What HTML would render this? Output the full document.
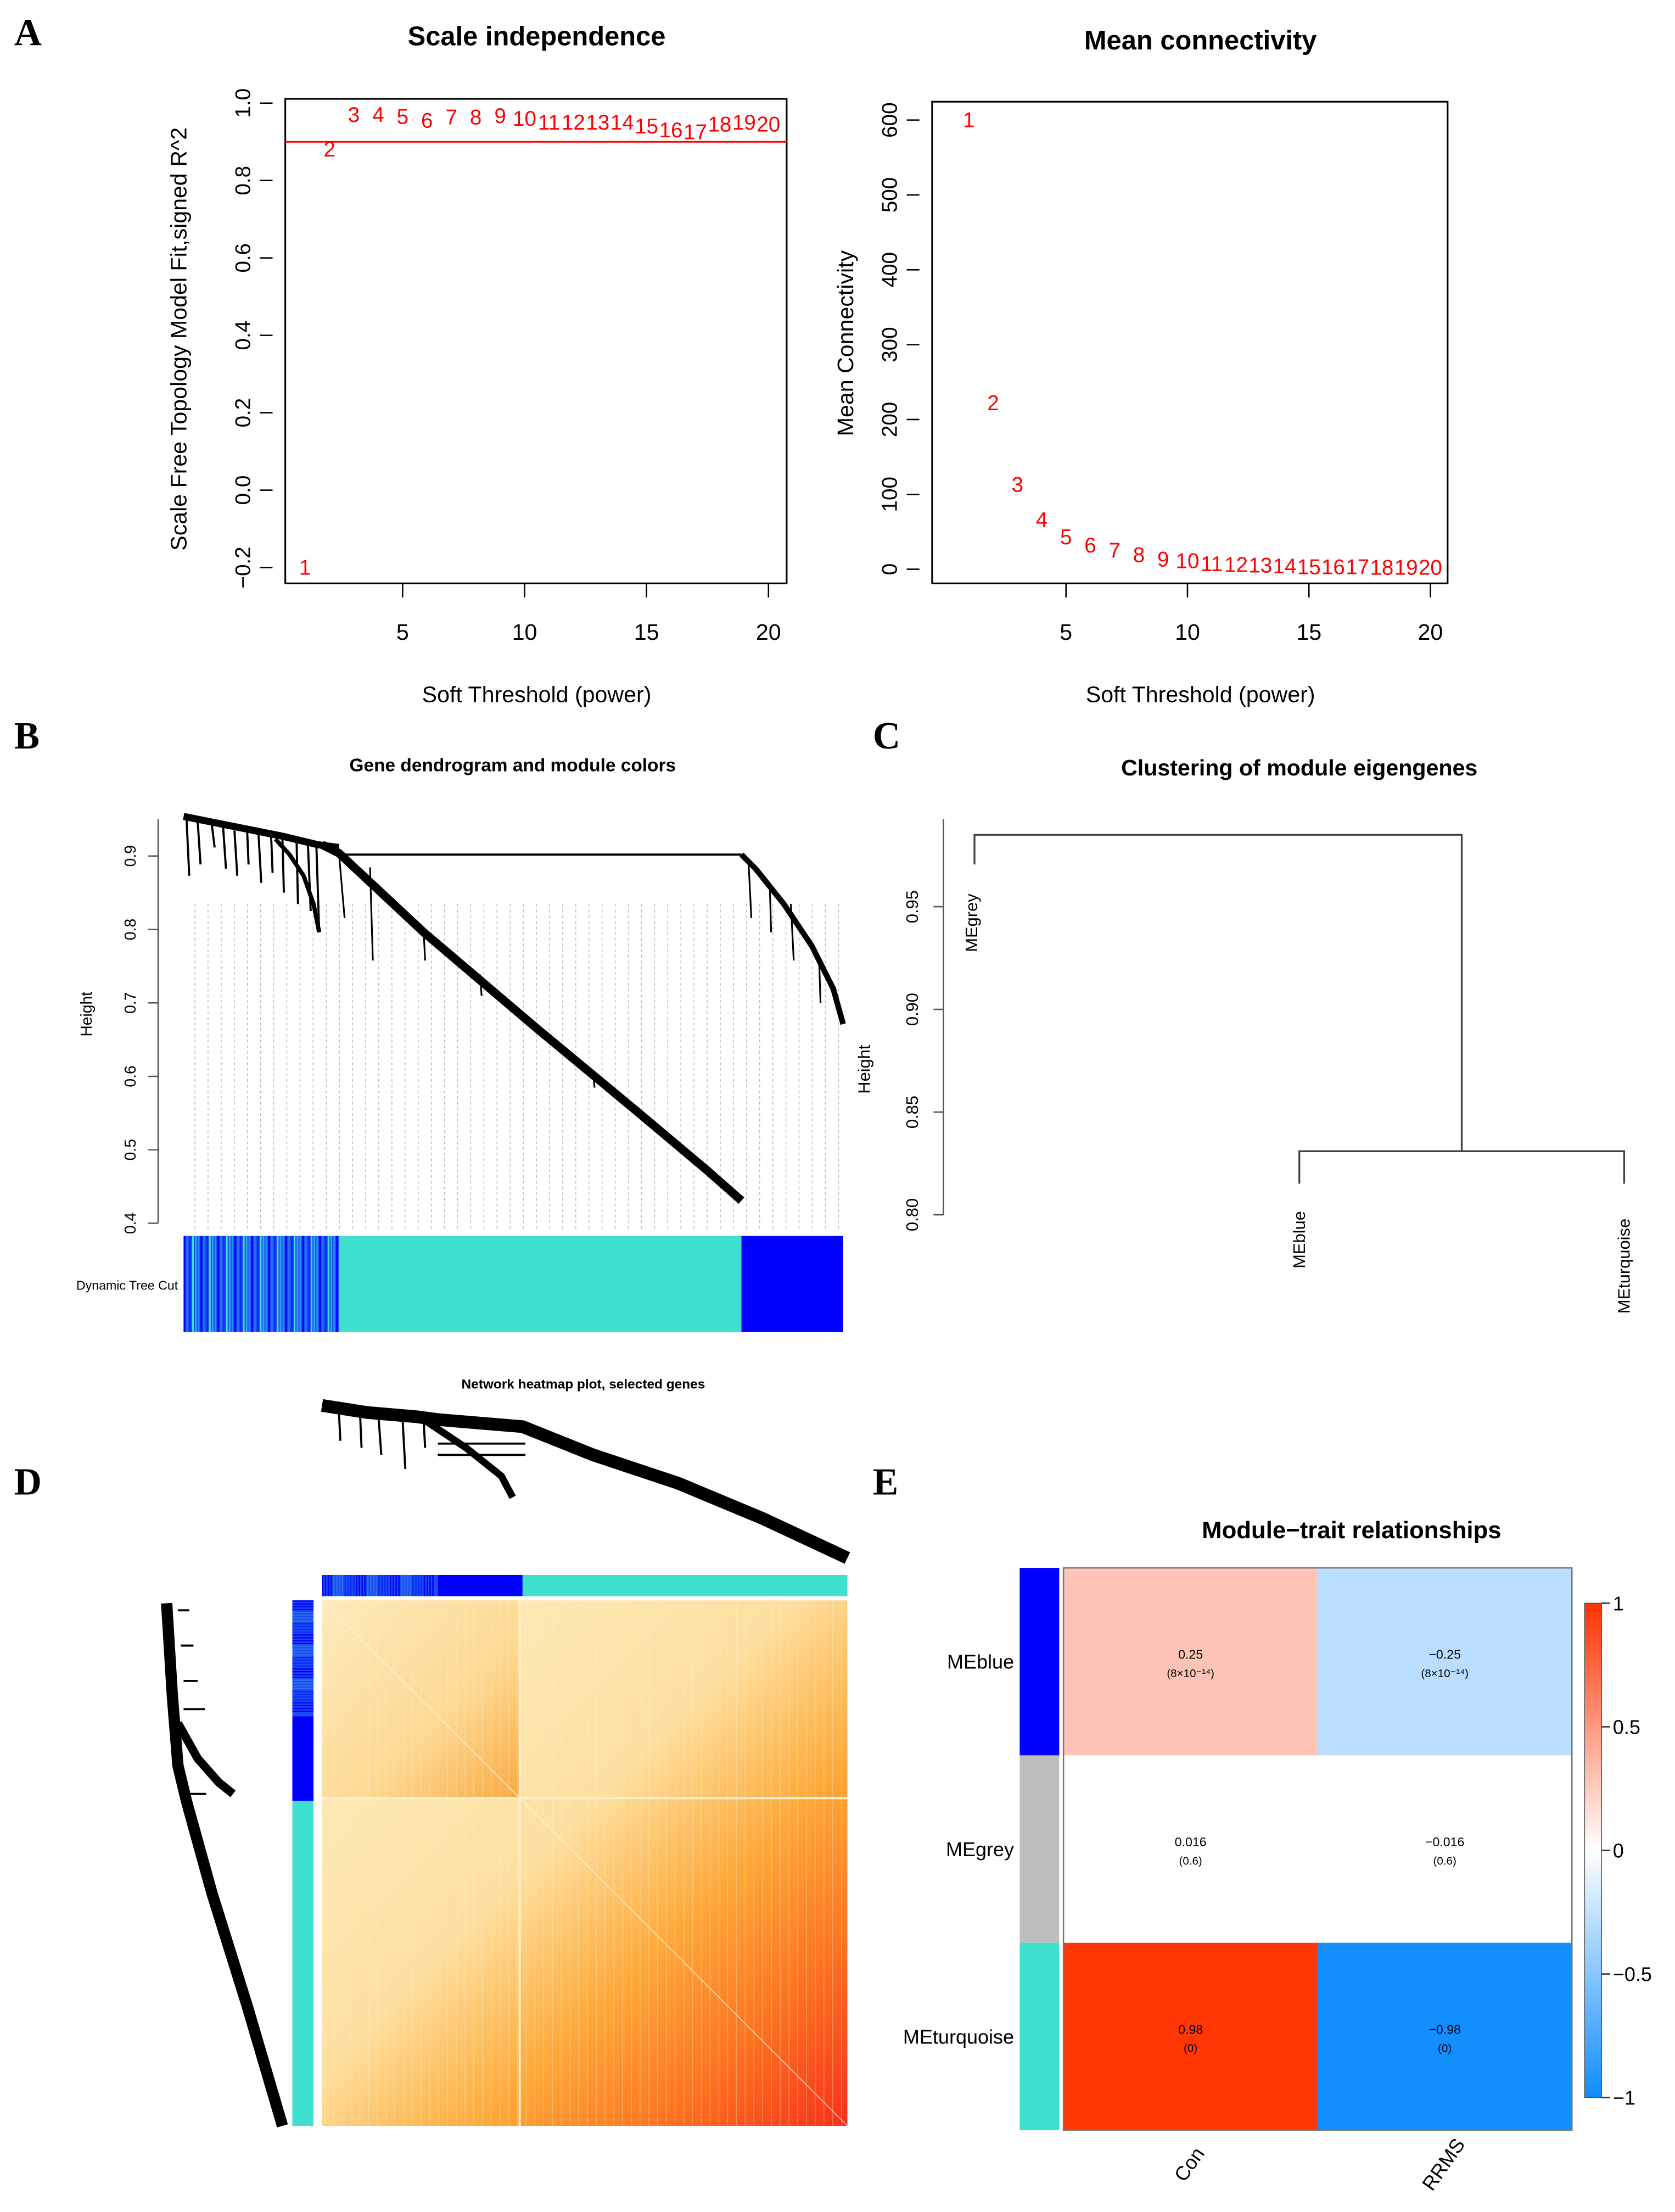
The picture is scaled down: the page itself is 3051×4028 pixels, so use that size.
<!DOCTYPE html>
<html><head><meta charset="utf-8"><style>
html,body{margin:0;padding:0;background:#fff}
svg{display:block}
text{font-family:"Liberation Sans",sans-serif}
.lt{font-family:"Liberation Serif",serif;font-weight:bold;font-size:27px}
</style></head><body>
<svg id="fig" xmlns="http://www.w3.org/2000/svg" width="3051" height="4028" viewBox="0 0 1186 1566" preserveAspectRatio="none">
<defs>
<linearGradient id="hm" x1="0" y1="0" x2="1" y2="1">
<stop offset="0" stop-color="#fdeec0"/><stop offset="0.45" stop-color="#fde0a0"/><stop offset="0.65" stop-color="#fdaa3a"/><stop offset="0.82" stop-color="#fd7420"/><stop offset="1" stop-color="#f8301a"/></linearGradient>
<linearGradient id="hmb" x1="0" y1="0" x2="1" y2="1">
<stop offset="0" stop-color="#fde9b8"/><stop offset="0.6" stop-color="#fdd78f"/><stop offset="1" stop-color="#f8a030"/></linearGradient>
<linearGradient id="leg" x1="0" y1="0" x2="0" y2="1">
<stop offset="0" stop-color="#ff3300"/><stop offset="0.5" stop-color="#ffffff"/><stop offset="1" stop-color="#0e8cff"/></linearGradient>
</defs>

<text class="lt" x="10" y="32">A</text>
<text class="lt" x="10" y="530">B</text>
<text class="lt" x="618" y="530">C</text>
<text class="lt" x="10" y="1058">D</text>
<text class="lt" x="618" y="1058">E</text>

<g id="pA1">
<text x="380" y="32" font-size="19" font-weight="bold" text-anchor="middle">Scale independence</text>
<rect x="202" y="70" width="355" height="343" fill="none" stroke="#000" stroke-width="1.2"/>
<text transform="translate(132,240) rotate(-90)" font-size="16" text-anchor="middle">Scale Free Topology Model Fit,signed R^2</text>
<text x="380" y="497" font-size="16" text-anchor="middle">Soft Threshold (power)</text>
</g>
<g id="pA2">
<text x="850" y="35" font-size="19" font-weight="bold" text-anchor="middle">Mean connectivity</text>
<rect x="660" y="72" width="365" height="341" fill="none" stroke="#000" stroke-width="1.2"/>
<text transform="translate(604,243) rotate(-90)" font-size="16" text-anchor="middle">Mean Connectivity</text>
<text x="850" y="497" font-size="16" text-anchor="middle">Soft Threshold (power)</text>
</g>

<g>
<text x="363" y="546" font-size="13" font-weight="bold" text-anchor="middle">Gene dendrogram and module colors</text>
<line x1="112" y1="580" x2="112" y2="866" stroke="#555"/>
<text transform="translate(65,718) rotate(-90)" font-size="11" text-anchor="middle">Height</text>
<g id="bTicks"></g>
<g id="bDash" stroke="#bbb" stroke-width="0.6" stroke-dasharray="2,2"></g>
<g fill="none" stroke="#000">
<path d="M130 578 L165 585 L200 592 L225 598 L240 600" stroke-width="5"/>
<path d="M132 578 L134 620 M140 582 L142 612 M150 584 L152 600 M158 586 L160 615 M166 588 L168 620 M175 588 L176 612 M183 590 L185 625 M192 592 L193 618 M200 594 L201 632 M210 596 L211 640 M218 597 L220 645 M224 598 L226 660" stroke-width="1.5"/>
<path d="M195 594 L205 605 L215 620 L222 640 L226 660" stroke-width="3"/>
<path d="M228 598 L240 604 L300 660 L380 728 L450 786 L500 828 L525 850" stroke-width="6"/>
<path d="M240 604 L244 650 M262 614 L264 680 M300 660 L301 680 M340 690 L341 705 M420 760 L421 770" stroke-width="1.2"/>
<path d="M240 605 L525 605" stroke-width="1.5"/>
<path d="M525 605 L535 615 L555 640 L575 670 L590 700 L597 725" stroke-width="4"/>
<path d="M530 610 L532 650 M545 625 L546 660 M560 640 L562 680 M580 680 L581 710" stroke-width="1.2"/>
</g>
<g id="bBar">
<rect x="130" y="875" width="110" height="68" fill="#1a4df0"/>
<rect x="240" y="875" width="285" height="68" fill="#40e0d0"/>
<rect x="525" y="875" width="72" height="68" fill="#0000ff"/>
</g>
<text x="126" y="913" font-size="9" text-anchor="end">Dynamic Tree Cut</text>
</g>

<g>
<text x="920" y="549" font-size="16" font-weight="bold" text-anchor="middle">Clustering of module eigengenes</text>
<line x1="668" y1="580" x2="668" y2="860" stroke="#555"/>
<g id="cTicks"></g>
<text transform="translate(616,757) rotate(-90)" font-size="12" text-anchor="middle">Height</text>
<path d="M690 612 L690 591 L1035 591 L1035 815 M920 838 L920 815 L1150 815 L1150 838" fill="none" stroke="#444" stroke-width="1.3"/>
<text transform="translate(692,674) rotate(-90)" font-size="12">MEgrey</text>
<text transform="translate(924,898) rotate(-90)" font-size="12">MEblue</text>
<text transform="translate(1154,930) rotate(-90)" font-size="12">MEturquoise</text>
</g>

<g>
<text x="413" y="983" font-size="9.5" font-weight="bold" text-anchor="middle">Network heatmap plot, selected genes</text>
<g fill="none" stroke="#000">
<path d="M228 995 L260 1000 L295 1003 L310 1005 L370 1010 L420 1030 L480 1050 L540 1075 L600 1103" stroke-width="9"/>
<path d="M300 1005 L330 1025 L355 1045 L363 1060" stroke-width="5"/>
<path d="M240 1000 L241 1020 M255 1002 L256 1025 M268 1003 L270 1030 M285 1004 L287 1040 M300 1006 L301 1025 M310 1030 L372 1030 M310 1022 L372 1022" stroke-width="1.5"/>
</g>
<g fill="none" stroke="#000">
<path d="M118 1135 L122 1200 L126 1250 L132 1275 L150 1340 L175 1420 L200 1505" stroke-width="8"/>
<path d="M126 1220 L140 1245 L155 1262 L165 1270" stroke-width="6"/>
<path d="M126 1140 L134 1140 M128 1165 L137 1165 M130 1190 L140 1190 M130 1210 L145 1210 M128 1270 L146 1270" stroke-width="1.5"/>
</g>
<g id="dTopBar">
<rect x="228" y="1115" width="82" height="15" fill="#1a4df0"/>
<rect x="310" y="1115" width="60" height="15" fill="#0000ff"/>
<rect x="370" y="1115" width="230" height="15" fill="#40e0d0"/>
</g>
<g id="dLeftBar">
<rect x="207" y="1133" width="15" height="82" fill="#1a4df0"/>
<rect x="207" y="1215" width="15" height="60" fill="#0000ff"/>
<rect x="207" y="1275" width="15" height="230" fill="#40e0d0"/>
</g>
<g>
<rect x="228" y="1133" width="372" height="372" fill="url(#hm)"/>
<rect x="228" y="1133" width="140" height="140" fill="url(#hmb)" opacity="0.85"/>
<g id="dLines"></g>
<line x1="368" y1="1133" x2="368" y2="1505" stroke="#fff0cc" stroke-width="1.5"/>
<line x1="228" y1="1273" x2="600" y2="1273" stroke="#fff0cc" stroke-width="1.5"/>
<line x1="228" y1="1133" x2="600" y2="1505" stroke="#fff8e0" stroke-width="0.6" opacity="0.8"/>
</g>
</g>

<g>
<text x="957" y="1089" font-size="17" font-weight="bold" text-anchor="middle">Module−trait relationships</text>
<g id="eCells"></g>
<rect x="753" y="1110" width="360" height="398" fill="none" stroke="#777" stroke-width="1"/>
<rect x="1122" y="1135" width="12" height="350" fill="url(#leg)" stroke="#555" stroke-width="0.6"/>
<g id="eLeg"></g>
</g>
</svg>
<script>
const NS="http://www.w3.org/2000/svg";
function mk(tag,attrs,parent,txt){const e=document.createElementNS(NS,tag);for(const k in attrs)e.setAttribute(k,attrs[k]);if(txt!==undefined)e.textContent=txt;parent.appendChild(e);return e;}

const powers=[1,2,3,4,5,6,7,8,9,10,11,12,13,14,15,16,17,18,19,20];
const sftR2=[-0.20,0.88,0.97,0.97,0.965,0.955,0.963,0.963,0.967,0.96,0.95,0.95,0.95,0.95,0.94,0.93,0.925,0.945,0.95,0.945];
const meanK=[600,222,113,66,43,32,25,19,13,11,7,6,5,4,3,3,3,2,2,2];
const xTicks=[5,10,15,20];
const r2Ticks=[-0.2,0.0,0.2,0.4,0.6,0.8,1.0];
const kTicks=[0,100,200,300,400,500,600];
const r2Cut=0.9;

const xA1=v=>216+(v-1)*17.27, yA1=v=>347-v*274;
const xA2=v=>686+(v-1)*17.2, yA2=v=>403-v*0.53;

function axesA(g,xf,yf,yt,left,bottom,fmt){
  yt.forEach(t=>{const y=yf(t);
    const l=mk('line',{x1:left-9,y1:y,x2:left,y2:y,stroke:'#000'},g);
    
    
    const tx=mk('text',{transform:`translate(${left-16},${y}) rotate(-90)`,'font-size':15,'text-anchor':'middle'},g,fmt(t));
    
    
  });
  xTicks.forEach(t=>{const x=xf(t);
    const l=mk('line',{x1:x,y1:bottom,x2:x,y2:bottom+10,stroke:'#000'},g);
    
    
    const tx=mk('text',{x:x,y:bottom+40,'font-size':16,'text-anchor':'middle'},g,String(t));
    
    
  });
}
const gA1=document.getElementById('pA1'), gA2=document.getElementById('pA2');
axesA(gA1,xA1,yA1,r2Ticks,193,413,t=>t.toFixed(1).replace('-','−'));
axesA(gA2,xA2,yA2,kTicks,651,413,t=>String(t));
const cut=mk('line',{x1:202,y1:yA1(r2Cut),x2:557,y2:yA1(r2Cut),stroke:'#f00','stroke-width':1.2},gA1);


powers.forEach((p,i)=>{
  const a=mk('text',{x:xA1(p),y:yA1(sftR2[i])+5,'font-size':15,fill:'#f00','text-anchor':'middle'},gA1,String(p));
  
  
  const b=mk('text',{x:xA2(p),y:yA2(meanK[i])+5,'font-size':15,fill:'#f00','text-anchor':'middle'},gA2,String(p));
  
  
});

const bTicks=[0.4,0.5,0.6,0.7,0.8,0.9];
const yB=v=>866-(v-0.4)*520;
const gB=document.getElementById('bTicks');
bTicks.forEach(t=>{const y=yB(t);
  mk('line',{x1:105,y1:y,x2:112,y2:y,stroke:'#555'},gB);
  const tx=mk('text',{transform:`translate(96,${y}) rotate(-90)`,'font-size':11,'text-anchor':'middle'},gB,t.toFixed(1));
  
  
});
const gD=document.getElementById('bDash');
for(let x=138;x<597;x+=9.3){mk('line',{x1:x,y1:640,x2:x,y2:870},gD);}
const stripeCols=['#0000ff','#1e90ff','#2b6cf5','#40e0d0','#0a2cff','#3aa0f0'];
const bb=document.getElementById('bBar');
for(let i=0;i<55;i++){const x=130+i*2;mk('rect',{x:x,y:875,width:1.2,height:68,fill:stripeCols[(i*7+i%3)%6]},bb);}
const tb=document.getElementById('dTopBar');
for(let i=0;i<40;i++){mk('rect',{x:228+i*2,y:1115,width:1,height:15,fill:stripeCols[(i*5+i%4)%6]},tb);}
const lb=document.getElementById('dLeftBar');
for(let i=0;i<40;i++){mk('rect',{x:207,y:1133+i*2,width:15,height:1,fill:stripeCols[(i*5+i%4)%6]},lb);}
const dl=document.getElementById('dLines');
for(let i=0;i<60;i++){const x=230+i*6.2;mk('line',{x1:x,y1:1133,x2:x,y2:1505,stroke:'#fff3d0','stroke-width':0.6,opacity:0.3},dl);}

const cTicks=[0.80,0.85,0.90,0.95];
const yC=v=>860-(v-0.80)*1454;
const gC=document.getElementById('cTicks');
cTicks.forEach(t=>{const y=yC(t);
  mk('line',{x1:661,y1:y,x2:668,y2:y,stroke:'#555'},gC);
  const tx=mk('text',{transform:`translate(650,${y}) rotate(-90)`,'font-size':12,'text-anchor':'middle'},gC,t.toFixed(2));
  
  
});

const modules=['MEblue','MEgrey','MEturquoise'];
const moduleColors=['#0000ff','#bebebe','#40e0d0'];
const traits=['Con','RRMS'];
const corVals=[[0.25,-0.25],[0.016,-0.016],[0.98,-0.98]];
const pLabels=[['(8×10⁻¹⁴)','(8×10⁻¹⁴)'],['(0.6)','(0.6)'],['(0)','(0)']];
const legTicks=[1,0.5,0,-0.5,-1];

function corColor(v){
  const t=Math.abs(v)<0.05?0:Math.min(1,Math.abs(v));
  const end=v>=0?[255,51,0]:[14,140,255];
  const c=end.map(e=>Math.round(255+(e-255)*Math.pow(t,0.9)));
  return `rgb(${c[0]},${c[1]},${c[2]})`;
}
const gE=document.getElementById('eCells');
const x0=753,y0=1110,cw=180,rh=132.7;
modules.forEach((m,r)=>{
  const sb=mk('rect',{x:722,y:y0+r*rh,width:28,height:rh,fill:moduleColors[r]},gE);
  
  
  const rl=mk('text',{x:718,y:y0+r*rh+rh/2+5,'font-size':14,'text-anchor':'end'},gE,m);
  
  
  traits.forEach((t,c)=>{
    const v=corVals[r][c];
    const cell=mk('rect',{x:x0+c*cw,y:y0+r*rh,width:cw,height:rh,fill:corColor(v)},gE);
    
    
    const cx=x0+c*cw+cw/2, cy=y0+r*rh+rh/2;
    const s=(v<0?'−':'')+String(Math.abs(v));
    const l1=mk('text',{x:cx,y:cy-2,'font-size':9,'text-anchor':'middle'},gE,s);
    
    
    const l2=mk('text',{x:cx,y:cy+11,'font-size':8,'text-anchor':'middle'},gE,pLabels[r][c]);
    
    
  });
});
traits.forEach((t,c)=>{
  const cx=x0+c*cw+cw/2;
  const tl=mk('text',{transform:`translate(${cx+3},${1535}) rotate(-55)`,'font-size':14,'text-anchor':'middle'},gE,t);
  
  
});
const gL=document.getElementById('eLeg');
legTicks.forEach(t=>{const y=1135+(1-t)/2*350;
  mk('line',{x1:1134,y1:y,x2:1140,y2:y,stroke:'#333'},gL);
  const tx=mk('text',{x:1142,y:y+5,'font-size':14},gL,String(t).replace('-','−'));
  
  
});
</script>
</body></html>
